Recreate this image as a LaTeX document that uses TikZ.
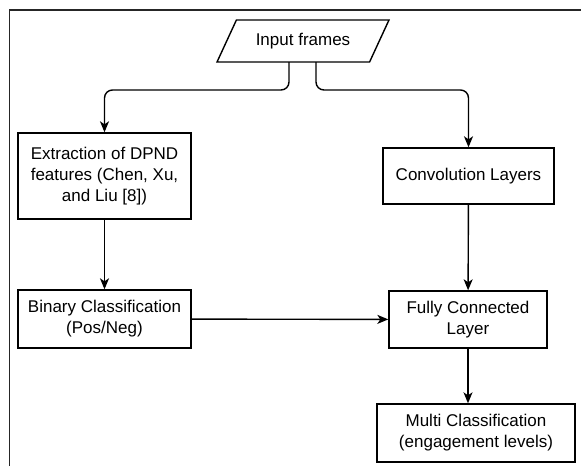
\documentclass[tikz,border=0pt]{standalone}
\usepackage{fontspec}
\setmainfont{Liberation Sans}
\usetikzlibrary{shapes.geometric,arrows.meta,calc}
\begin{document}
\begin{tikzpicture}[x=1pt,y=-1pt,
  every node/.style={font=\fontsize{17}{21}\selectfont, align=center, inner sep=0pt},
  boxnode/.style={draw, line width=1.4pt, rectangle},
  arr/.style={line width=1.4pt, -{Stealth[length=11pt,width=9pt,inset=3pt]}},
  frameline/.style={line width=1.6pt, draw=black!85}
]
\useasboundingbox (0,0) rectangle (581,466);
\draw[frameline] (9.5,466) -- (9.5,10) -- (581,10);

\node[draw, line width=1.4pt, trapezium, trapezium stretches=true,
      trapezium left angle=49, trapezium right angle=131,
      minimum width=172pt, minimum height=42pt] (in) at (303,41) {Input frames};

\node[boxnode, minimum width=173pt, minimum height=86pt] (ext) at (104.5,176)
  {Extraction of DPND\\features (Chen, Xu,\\and Liu [8])};
\node[boxnode, minimum width=173pt, minimum height=58pt] (bin) at (104.5,319)
  {Binary Classification\\(Pos/Neg)};
\node[boxnode, minimum width=171pt, minimum height=56pt] (conv) at (468.5,176)
  {Convolution Layers};
\node[boxnode, minimum width=158pt, minimum height=57pt] (fc) at (468,319.5)
  {Fully Connected\\Layer};
\node[boxnode, minimum width=198pt, minimum height=58pt] (multi) at (476,433)
  {Multi Classification\\(engagement levels)};

\coordinate (inL) at ($(in.center)+(-14,21)$);
\coordinate (inR) at ($(in.center)+(13,21)$);
\draw[arr, rounded corners=8pt] (inL) -- ++(0,28) -| (ext.north);
\draw[arr, rounded corners=8pt] (inR) -- ++(0,28) -| (conv.north);
\draw[arr] (ext) -- (bin);
\draw[arr] (conv) -- (fc);
\draw[arr] (bin) -- (fc);
\draw[arr] (fc.south) -- (fc.south |- multi.north);
\end{tikzpicture}
\end{document}
